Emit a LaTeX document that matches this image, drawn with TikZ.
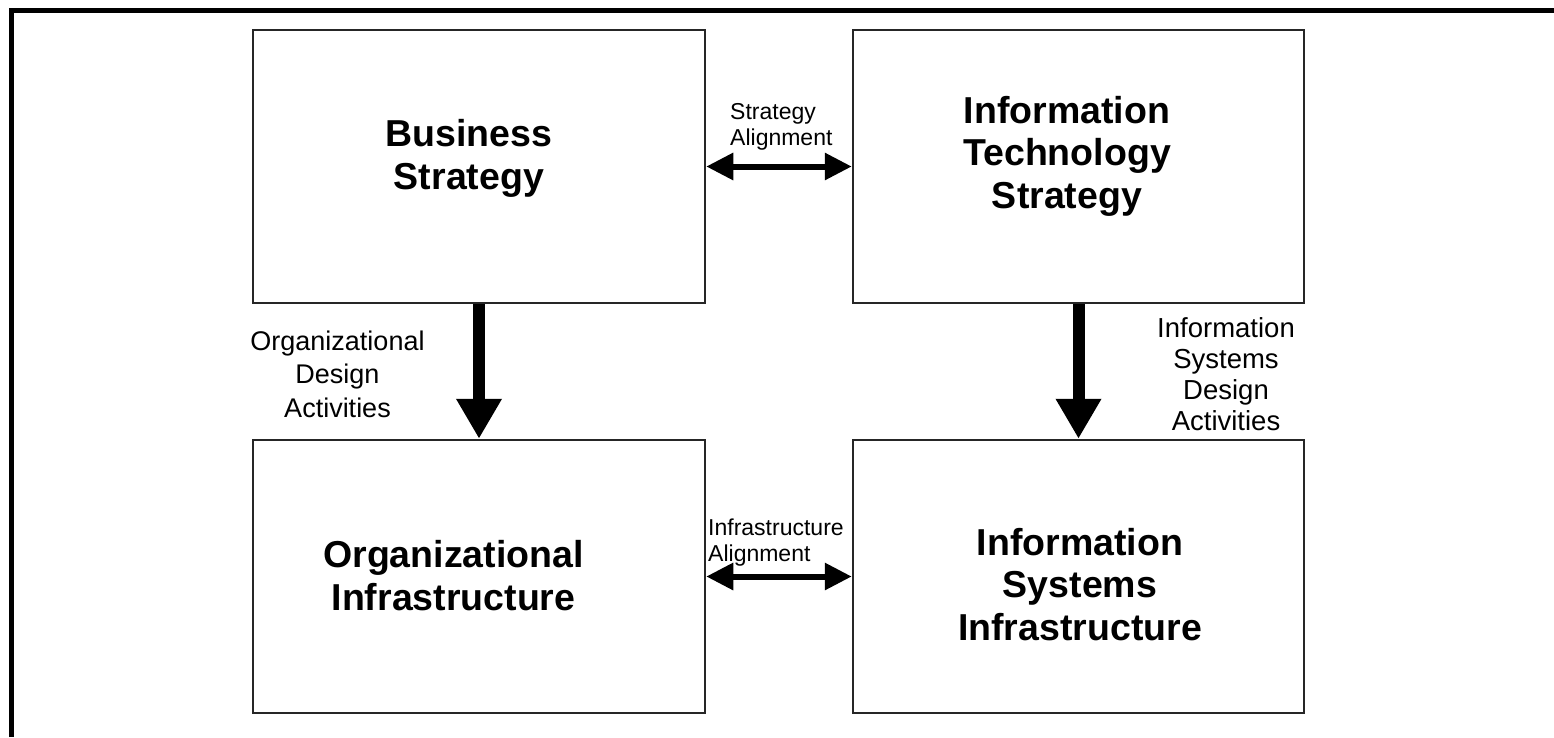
\documentclass[tikz,border=0pt]{standalone}
\usepackage{fontspec}
\setmainfont{Liberation Sans}
\usetikzlibrary{arrows.meta}

\begin{document}
\begin{tikzpicture}[x=1pt,y=-1pt,
    box/.style={draw=black!85,line width=2.5pt,minimum width=452pt,minimum height=273pt,inner sep=0pt},
    boxtext/.style={anchor=base,align=center,inner sep=0pt,font=\bfseries\fontsize{37.5}{42.5}\selectfont},
    aligntext/.style={anchor=base west,align=left,inner sep=0pt,font=\fontsize{23}{25.5}\selectfont},
    designtext/.style={anchor=base,align=center,inner sep=0pt},
    alignarrow/.style={line width=6pt,{Triangle[length=27pt,width=26pt]}-{Triangle[length=27pt,width=26pt]}},
    designarrow/.style={line width=12pt,-{Triangle[length=40pt,width=43pt]}}]

    \useasboundingbox (0,0) rectangle (1554,737);
    % outer frame
    \draw[line width=5pt] (11,737) -- (11,10.5) -- (1554,10.5);

    % boxes
    \node[box] (bs) at (479,166.5) {};
    \node[box,minimum width=451pt] (its) at (1078.5,166.5) {};
    \node[box] (oi) at (479,576.5) {};
    \node[box,minimum width=451pt] (isi) at (1078.5,576.5) {};

    \node[boxtext] (bstext) at (469,189) {Business\\Strategy};
    \node[boxtext] (itstext) at (1067,208) {Information\\Technology\\Strategy};
    \node[boxtext] (oitext) at (453.5,610) {Organizational\\Infrastructure};
    \node[boxtext] (isitext) at (1080,640) {Information\\Systems\\Infrastructure};

    % alignment
    \draw[alignarrow] (bs.east) -- (its.west);
    \draw[alignarrow] (oi.east) -- (isi.west);
    \node[aligntext] (salign) at (730,145) {Strategy\\Alignment};
    \node[aligntext] (ialign) at (708,561) {Infrastructure\\Alignment};

    % design activities
    \draw[designarrow] (bs) -- (oi);
    \draw[designarrow] (its) -- (isi);
    \node[designtext,font=\fontsize{27}{33.5}\selectfont] (oda) at (337.5,417) {Organizational\\Design\\Activities};
    \node[designtext,font=\fontsize{27.5}{31}\selectfont] (isda) at (1226,430) {Information\\Systems\\Design\\Activities};
\end{tikzpicture}
\end{document}
